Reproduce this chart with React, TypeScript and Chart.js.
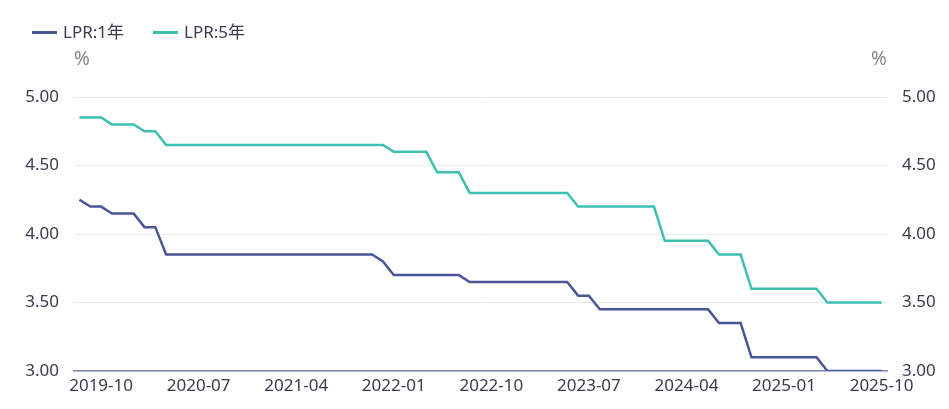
import React, { useEffect, useRef } from "react";
import { Chart, registerables } from "chart.js";

Chart.register(...registerables);

const months: string[] = [
  "2019-08", "2019-09", "2019-10", "2019-11", "2019-12",
  "2020-01", "2020-02", "2020-03", "2020-04", "2020-05", "2020-06", "2020-07", "2020-08", "2020-09", "2020-10", "2020-11", "2020-12",
  "2021-01", "2021-02", "2021-03", "2021-04", "2021-05", "2021-06", "2021-07", "2021-08", "2021-09", "2021-10", "2021-11", "2021-12",
  "2022-01", "2022-02", "2022-03", "2022-04", "2022-05", "2022-06", "2022-07", "2022-08", "2022-09", "2022-10", "2022-11", "2022-12",
  "2023-01", "2023-02", "2023-03", "2023-04", "2023-05", "2023-06", "2023-07", "2023-08", "2023-09", "2023-10", "2023-11", "2023-12",
  "2024-01", "2024-02", "2024-03", "2024-04", "2024-05", "2024-06", "2024-07", "2024-08", "2024-09", "2024-10", "2024-11", "2024-12",
  "2025-01", "2025-02", "2025-03", "2025-04", "2025-05", "2025-06", "2025-07", "2025-08", "2025-09", "2025-10",
];

const shownTicks: string[] = [
  "2019-10", "2020-07", "2021-04", "2022-01", "2022-10", "2023-07", "2024-04", "2025-01", "2025-10",
];

const lpr1y: number[] = [
  4.25, 4.20, 4.20, 4.15, 4.15,
  4.15, 4.05, 4.05, 3.85, 3.85, 3.85, 3.85, 3.85, 3.85, 3.85, 3.85, 3.85,
  3.85, 3.85, 3.85, 3.85, 3.85, 3.85, 3.85, 3.85, 3.85, 3.85, 3.85, 3.80,
  3.70, 3.70, 3.70, 3.70, 3.70, 3.70, 3.70, 3.65, 3.65, 3.65, 3.65, 3.65,
  3.65, 3.65, 3.65, 3.65, 3.65, 3.55, 3.55, 3.45, 3.45, 3.45, 3.45, 3.45,
  3.45, 3.45, 3.45, 3.45, 3.45, 3.45, 3.35, 3.35, 3.35, 3.10, 3.10, 3.10,
  3.10, 3.10, 3.10, 3.10, 3.00, 3.00, 3.00, 3.00, 3.00, 3.00,
];

const lpr5y: number[] = [
  4.85, 4.85, 4.85, 4.80, 4.80,
  4.80, 4.75, 4.75, 4.65, 4.65, 4.65, 4.65, 4.65, 4.65, 4.65, 4.65, 4.65,
  4.65, 4.65, 4.65, 4.65, 4.65, 4.65, 4.65, 4.65, 4.65, 4.65, 4.65, 4.65,
  4.60, 4.60, 4.60, 4.60, 4.45, 4.45, 4.45, 4.30, 4.30, 4.30, 4.30, 4.30,
  4.30, 4.30, 4.30, 4.30, 4.30, 4.20, 4.20, 4.20, 4.20, 4.20, 4.20, 4.20,
  4.20, 3.95, 3.95, 3.95, 3.95, 3.95, 3.85, 3.85, 3.85, 3.60, 3.60, 3.60,
  3.60, 3.60, 3.60, 3.60, 3.50, 3.50, 3.50, 3.50, 3.50, 3.50,
];

const seriesNames: string[] = ["LPR:1年", "LPR:5年"];
const seriesColors: string[] = ["#4b5698", "#3dbfb1"];
const unitLabel = "%";

const FONT = "'Noto Sans', 'Noto Sans CJK SC', sans-serif";
const TEXT = "#3a3a4f";

const overlayPlugin = {
  id: "overlay",
  afterDraw(chart: any) {
    const ctx = chart.ctx as CanvasRenderingContext2D;
    ctx.save();
    // legend
    const legendX = [32, 153];
    chart.data.datasets.forEach((ds: any, i: number) => {
      const x = legendX[i];
      ctx.fillStyle = ds.borderColor;
      ctx.fillRect(x, 31, 25, 3);
      ctx.fillStyle = TEXT;
      ctx.font = `17px ${FONT}`;
      ctx.textAlign = "left";
      ctx.textBaseline = "middle";
      ctx.fillText(ds.label, x + 31, 33);
    });
    // units
    ctx.fillStyle = "#85858f";
    ctx.font = `19px ${FONT}`;
    ctx.textAlign = "center";
    ctx.textBaseline = "middle";
    ctx.fillText(unitLabel, 82, 60);
    ctx.fillText(unitLabel, 879, 60);
    ctx.restore();
  },
};

export default function App() {
  const canvasRef = useRef<HTMLCanvasElement | null>(null);

  useEffect(() => {
    document.body.style.margin = "0";
    const canvas = canvasRef.current;
    if (!canvas) return;
    const yTicks = {
      stepSize: 0.5,
      padding: 15,
      color: TEXT,
      font: { family: FONT, size: 17 },
      callback: (v: any) => Number(v).toFixed(2),
    };
    const chart = new Chart(canvas, {
      type: "line",
      data: {
        labels: months,
        datasets: [
          {
            label: seriesNames[0],
            data: lpr1y,
            borderColor: seriesColors[0],
            backgroundColor: seriesColors[0],
            borderWidth: 2.5,
            pointRadius: 0,
            tension: 0,
            yAxisID: "y",
          },
          {
            label: seriesNames[1],
            data: lpr5y,
            borderColor: seriesColors[1],
            backgroundColor: seriesColors[1],
            borderWidth: 2.5,
            pointRadius: 0,
            tension: 0,
            yAxisID: "y",
          },
        ],
      },
      options: {
        animation: false,
        responsive: false,
        maintainAspectRatio: false,
        layout: { padding: { top: 97, left: 0, right: 0, bottom: 0 } },
        plugins: {
          legend: { display: false },
          tooltip: { enabled: false },
        },
        scales: {
          x: {
            type: "category",
            offset: true,
            grid: { display: false, drawTicks: false },
            border: { display: true, color: "#7f89b5", width: 1.5 },
            ticks: {
              autoSkip: false,
              maxRotation: 0,
              padding: 5,
              color: TEXT,
              font: { family: FONT, size: 17 },
              callback: function (this: any, _v: any, i: number) {
                const l = months[i];
                return shownTicks.includes(l) ? l : "";
              },
            },
            afterFit: (s: any) => {
              s.height = 38;
            },
          },
          y: {
            position: "left",
            min: 3,
            max: 5,
            grid: { color: "#e9e9f2", lineWidth: 1, drawTicks: false },
            border: { display: false },
            ticks: yTicks,
            afterFit: (s: any) => {
              s.width = 74;
            },
          },
          y1: {
            position: "right",
            min: 3,
            max: 5,
            grid: { display: false, drawTicks: false },
            border: { display: false },
            ticks: yTicks,
            afterFit: (s: any) => {
              s.width = 62;
            },
          },
        },
      },
      plugins: [overlayPlugin],
    } as any);
    return () => chart.destroy();
  }, []);

  return (
    <div style={{ position: "fixed", left: 0, top: 0, width: 949, height: 409, background: "#fff" }}>
      <canvas ref={canvasRef} width={949} height={409} style={{ width: 949, height: 409 }} />
    </div>
  );
}
